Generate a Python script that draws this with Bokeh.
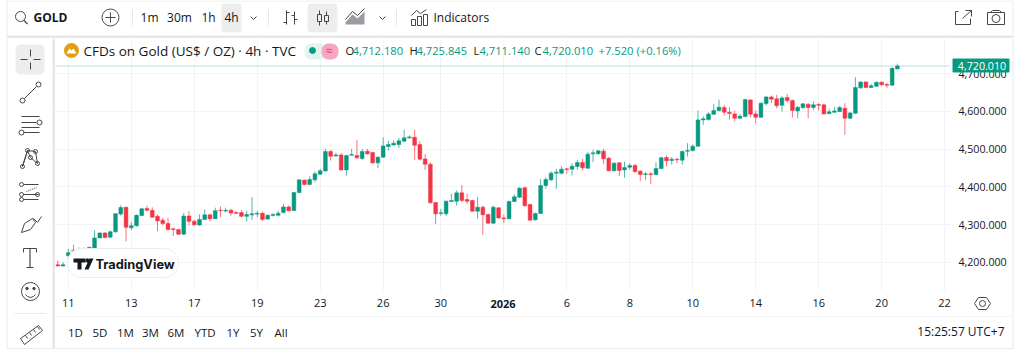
from bokeh.plotting import figure
from bokeh.layouts import column, row
from bokeh.models import Range1d, FixedTicker, NumeralTickFormatter, ColumnDataSource
from bokeh.core.properties import value
from bokeh.embed import file_html
from bokeh.resources import INLINE

opens = [4194,4191,4218,4232,4232,4234,4236,4236,4265,4278,
 4267,4281,4328,4346,4292,4297,4324,4343,4338,4322,
 4312,4303,4289,4287,4275,4323,4309,4299,4314,4326,
 4316,4338,4336,4338,4332,4332,4322,4326,4328,4330,
 4315,4324,4325,4332,4347,4337.5,4385,4418,4406,4419,
 4433.6,4442,4493.6,4482,4484.7,4445,4484,4483,4475,4494.4,
 4491,4463.6,4478.6,4506.8,4511,4512,4521,4529.7,4531.5,4512,
 4474,4460,4358.6,4329.6,4328.7,4361.3,4362,4384.2,4366.6,4364,
 4335.7,4346.3,4327,4304,4344.5,4318,4315.5,4361.4,4372.8,4397.5,
 4353.4,4312.9,4329.6,4403.7,4418.7,4436.3,4436.3,4447.8,4446.9,4453.9,
 4464.5,4449.5,4487.4,4487.4,4494.5,4476,4442.5,4463.6,4445,4452,
 4456.6,4441.6,4432.8,4434.5,4432.8,4448.6,4477.7,4469.8,4473.3,4470.7,
 4494.5,4496.2,4507.7,4577.3,4578,4592.3,4602,4610,4597.6,4593,
 4581.7,4586,4630,4593,4584.4,4620.5,4638,4632.9,4616,4636.4,
 4628.5,4601,4610,4618.8,4610,4618,4617,4594,4597.6,4599.4,
 4608,4581.7,4595,4662,4677.8,4662.9,4666.4,4677,4670.8,4669,
 4712.18]
highs = [4205,4201,4236,4247,4240,4240,4242,4285,4280,4280,
 4285,4330.5,4351,4348,4307,4327,4345,4350,4346,4327,
 4318,4318,4292,4289,4331,4336,4313,4327,4341,4329,
 4345,4348,4345,4342,4336,4339,4337,4373,4337,4334,
 4327,4330,4337,4355,4351,4387,4419.5,4419,4428,4440.6,
 4447.7,4500.6,4498,4490,4489,4484,4500.6,4525,4500.6,4500.6,
 4492.7,4480,4531.5,4522.6,4522.6,4529.7,4550.9,4535.9,4551,4520.9,
 4487.4,4465.3,4360.4,4342,4364,4381.6,4390.4,4404.5,4381.6,4365.7,
 4372.8,4350.7,4328.7,4350.7,4346.3,4327,4364,4379.9,4399.3,4401,
 4355,4332,4421.3,4425.7,4441.6,4447.8,4453.9,4449.5,4462.7,4471.6,
 4474.2,4491.8,4498,4497.1,4500.7,4478.6,4465.4,4465.4,4466.3,4462.7,
 4461,4445,4439,4439,4465.4,4480.4,4483,4478.6,4476.8,4496.2,
 4515.6,4512,4602,4587,4597.6,4619.7,4631,4617,4610.8,4602,
 4593,4632.9,4632,4602,4624,4640,4641.7,4643.5,4640,4646,
 4631,4613.5,4621.4,4621.4,4625.8,4622,4619.7,4606.4,4610.8,4615,
 4621.4,4597.6,4690,4678.7,4678.7,4672.5,4678.7,4678.7,4675,4715.8,
 4725.845]
lows = [4189,4189,4192,4230,4228,4230,4233,4232,4265,4264,
 4265,4279,4324,4256,4286,4295,4323,4336,4318,4283,
 4298,4285,4270,4273,4273,4298,4297,4297,4313,4309,
 4315,4320,4332,4324,4329,4320,4309,4313,4320,4309,
 4313,4322,4322,4330,4335,4336,4383,4404.5,4404,4412,
 4431.8,4440.6,4469.7,4480,4443,4430,4483,4474,4471.5,4484.7,
 4461,4450,4477,4496,4509.4,4503,4518,4528,4471.5,4469.7,
 4445,4356,4302,4323.4,4323.4,4359.5,4350.7,4359.5,4355,4334,
 4315.4,4273,4302,4302,4315.4,4304,4314.6,4359.6,4371,4348,
 4310,4311,4328.7,4394.8,4415,4394.8,4432.8,4434.5,4430,4445,
 4443.3,4447.8,4465.4,4485.7,4461,4441.6,4440.7,4428.4,4424,4445,
 4437,4415,4418.7,4408,4430,4446.9,4453.9,4459,4462.7,4459.2,
 4480.4,4493.6,4506.8,4564,4575.6,4590.6,4599.4,4588.8,4578,4573,
 4580,4584.4,4583.5,4568.5,4582.6,4615,4621.4,4608,4599.4,4622.3,
 4583.5,4581.7,4606.4,4581.7,4603.8,4602,4592,4592,4596,4597.6,
 4537.7,4580,4593,4659.3,4661,4661,4664.6,4668,4661,4668,
 4711.14]
closes = [4191,4194,4226,4230,4234,4236,4240,4265,4278,4266,
 4281,4329,4345.5,4293,4297,4325,4342,4338,4320,4310,
 4303,4287,4287,4275,4323,4309,4300,4314,4326,4316,
 4337,4337,4338,4331,4330,4322,4327,4329,4330,4314,
 4325,4327,4330,4347,4337,4385,4418.6,4406,4419.5,4434.5,
 4442.4,4493.6,4481,4484.7,4445,4483,4485.6,4477,4493.6,4487.4,
 4463.6,4478.6,4508.5,4512,4515.6,4521.8,4529.7,4532.3,4510.3,4473.3,
 4460,4357.8,4328.7,4331.3,4362.2,4364,4384.2,4364,4362,4335.7,
 4346.3,4326,4304,4346.3,4318,4315.5,4361.4,4373.7,4396.6,4349.9,
 4312,4329.6,4403.7,4419.5,4436.3,4439,4446.9,4446,4454.8,4464.5,
 4450.4,4486.5,4490,4495.4,4474.2,4442.5,4462.7,4443.3,4451.3,4456.6,
 4440.7,4432.8,4434.5,4432.8,4448.6,4476.8,4468.9,4473.3,4471.6,4493.6,
 4496.2,4507.7,4577.3,4580,4593,4602,4610.8,4597.6,4594,4581.7,
 4587,4631,4592.3,4584.4,4621.4,4638,4632,4615,4635.5,4628.5,
 4602,4610.8,4619.7,4610,4617,4616,4593,4598.5,4601,4610,
 4581.7,4595.8,4662.9,4677.8,4662.9,4667.3,4677,4670,4669,4714,
 4720.01]

time_ticks = [2, 14, 26, 38, 50, 62, 73, 85, 97, 109, 121, 133, 145, 157, 169]
time_labels = ["11", "13", "17", "19", "23", "26", "30", "2026", "6", "8", "10", "14", "16", "20", "22"]
price_ticks = [4200, 4300, 4400, 4500, 4600, 4700]
range_buttons = ["1D", "5D", "1M", "3M", "6M", "YTD", "1Y", "5Y", "All"]
intervals = ["1m", "30m", "1h", "4h"]

GREEN = "#089981"
RED = "#F23645"
INK = "#131722"
GRID = "#F2F3F5"
BAND = "#E6E7EA"
EDGE = "#E9EAEC"
ICON = "#43474D"
FONT = value("Open Sans")


def chrome(ox, oy, w, h):
    f = figure(width=w, height=h, x_range=Range1d(ox, ox + w), y_range=Range1d(oy + h, oy),
               min_border=0, toolbar_location=None, output_backend="svg", outline_line_color=None)
    f.axis.visible = False
    f.grid.visible = False
    return f


def txt(f, x, y, s, size=12, color=INK, align="left", style="normal", font=FONT, **kw):
    f.text([x], [y], [s], text_font=font, text_font_size=f"{size}px", text_color=color,
           text_align=align, text_baseline="middle", text_font_style=style, **kw)


def ln(f, xs, ys, color=ICON, w=1, **kw):
    f.line(xs, ys, line_color=color, line_width=w, **kw)


def ring(f, x, y, d, color=ICON, w=1, **kw):
    f.scatter([x], [y], size=d, marker="circle", fill_color=None, line_color=color, line_width=w, **kw)


def box(f, l, r, t, b, color, radius=0, **kw):
    f.quad(left=[l], right=[r], top=[t], bottom=[b], fill_color=color, line_color=None,
           border_radius=radius, **kw)


# ---------------- top toolbar ----------------
top = chrome(0, 0, 1016, 38)
box(top, 6, 1013, 38, 35, BAND)
ln(top, [6.5, 1012.5], [0.5, 0.5], color=EDGE)
ln(top, [6.5, 6.5], [0, 35], color=EDGE)
ring(top, 20, 16, 10)
ln(top, [23.5, 27], [20, 23.5], w=1.2)
txt(top, 33, 17, "GOLD", 12, style="bold")
ring(top, 110, 17, 17)
ln(top, [105, 115], [17, 17]); ln(top, [110, 110], [12, 22])
ln(top, [132, 132], [9, 26], color=BAND)
box(top, 221, 241, 32, 3, "#EDEDED", 3)
for s, x in zip(intervals, [149, 179, 208, 231]):
    txt(top, x, 17, s, 12, align="center")
ln(top, [250, 253, 256], [16, 19, 16], w=1)
ln(top, [268, 268], [9, 26], color=BAND)
# bar-style icon
ln(top, [286, 286], [10, 24]); ln(top, [283, 286], [22, 22]); ln(top, [286, 289], [12, 12])
ln(top, [294, 294], [11, 24]); ln(top, [291, 294], [15, 15]); ln(top, [294, 297], [19, 19])
# candle-style icon
box(top, 307, 337, 32, 3, "#EDEDED", 4)
ln(top, [319, 319], [10, 25]); top.quad(left=[317], right=[321], top=[14], bottom=[21], fill_color="#EDEDED", line_color=ICON)
ln(top, [326, 326], [11, 24]); top.quad(left=[324], right=[328], top=[15], bottom=[21], fill_color="#EDEDED", line_color=ICON)
# area icon
top.patch([345, 352, 357, 364, 364, 345], [22, 14, 18, 11, 24, 24], fill_color="#9A9CA1", line_color=None)
ln(top, [345, 352, 357, 364], [19, 11, 15, 8])
ln(top, [379, 382, 385], [16, 19, 16])
ln(top, [396, 396], [9, 26], color=BAND)
# indicators icon
ln(top, [411, 416, 420, 426], [15, 10, 13, 9], w=1)
for l, r, t in [(411, 415, 19), (417, 421, 16), (423, 427, 14)]:
    top.quad(left=[l], right=[r], top=[t], bottom=[25], fill_color=None, line_color=ICON)
txt(top, 433, 17, "Indicators", 12)
# share + camera
ln(top, [958, 955, 955, 970, 970], [11, 11, 24, 24, 18])
ln(top, [962, 971], [18, 10]); ln(top, [965, 971, 971], [10, 10, 16])
top.quad(left=[987], right=[1004], top=[12], bottom=[24], fill_color=None, line_color=ICON)
ln(top, [990, 992, 999, 1001], [12, 10, 10, 12])
ring(top, 995.5, 18, 8)
ln(top, [1012.5, 1012.5], [0, 35], color=EDGE)

# ---------------- left drawing tools ----------------
left = chrome(0, 38, 55, 312)
box(left, 52, 55, 38, 348, BAND)
ln(left, [6.5, 6.5], [38, 348], color=EDGE)
ln(left, [6, 55], [348, 348], color=EDGE)
box(left, 15, 44, 74, 44, "#EDEDED", 5)
ln(left, [20, 27], [59, 59]); ln(left, [33, 40], [59, 59]); ln(left, [30, 30], [49, 56]); ln(left, [30, 30], [62, 69])
ln(left, [24, 36], [98, 86]); ring(left, 22, 100, 5); ring(left, 38, 84, 5)
ln(left, [21, 39], [116, 116]); ln(left, [21, 36], [122, 122]); ln(left, [23, 39], [132, 132]); ln(left, [21, 39], [127, 127])
ring(left, 39, 122, 5); ring(left, 21, 132, 5)
ln(left, [22, 27, 30, 37, 35, 27, 22], [166, 150, 157, 163, 151, 150, 166])
for x, y in [(22, 166), (27, 150), (30, 157), (37, 163), (35, 151)]:
    ring(left, x, y, 4)
ln(left, [23, 38], [184, 184]); ln(left, [23, 38], [194, 194]); ln(left, [23, 38], [199, 199])
ln(left, [26, 36], [191, 187], line_dash="1 1")
for x, y in [(21, 184), (21, 194), (37, 194), (21, 199)]:
    ring(left, x, y, 4)
ln(left, [21, 24, 32, 35, 30, 21], [232, 223, 218, 222, 229, 232])
ln(left, [33, 37, 41], [218, 222, 216])
ln(left, [23, 36], [248, 248], w=1.2); ln(left, [23, 23], [248, 252]); ln(left, [36, 36], [248, 252])
ln(left, [29.5, 29.5], [248, 267], w=1.2); ln(left, [26, 33], [267, 267])
ring(left, 30, 291, 18)
left.scatter([26.5, 33.5], [288, 288], size=2.5, color=ICON)
ln(left, [25, 27, 30, 33, 35], [294, 296, 297, 296, 294])
ln(left, [14, 46], [313, 313], color=EDGE)
ln(left, [20, 38, 42, 24, 20], [338, 325, 330, 344, 338], w=1)
for a, b in [(25, 335), (29, 332), (33, 329), (37, 326)]:
    ln(left, [a, a + 2], [b, b + 3], w=1)

# ---------------- chart pane ----------------
main = figure(width=961, height=278, x_range=Range1d(-0.44, 182.7), y_range=Range1d(4057.1, 4792.6),
              min_border=0, toolbar_location=None, output_backend="svg", outline_line_color=None,
              y_axis_location="right")
main.extra_x_ranges["px"] = Range1d(55, 1016)
main.extra_y_ranges["px"] = Range1d(316, 38)

main.xaxis.ticker = FixedTicker(ticks=time_ticks)
main.xaxis.major_label_overrides = {t: ("" if s == "2026" else s) for t, s in zip(time_ticks, time_labels)}
main.yaxis.ticker = FixedTicker(ticks=price_ticks)
main.yaxis.formatter = NumeralTickFormatter(format="0,0.000")
main.xaxis.fixed_location = 4125.9
main.yaxis.fixed_location = 170.1
for ax in (main.xaxis, main.yaxis):
    ax.axis_line_color = None
    ax.major_tick_line_color = None
    ax.minor_tick_line_color = None
    ax.major_label_text_font = "Open Sans"
    ax.major_label_text_color = INK
main.xaxis.major_label_text_font_size = "11px"
main.yaxis.major_label_text_font_size = "10.7px"
main.xaxis.major_label_standoff = 3
main.yaxis.major_label_standoff = 2
main.grid.grid_line_color = GRID

n = len(closes)
idx = list(range(n))
colors = [GREEN if c >= o else RED for o, c in zip(opens, closes)]
src = ColumnDataSource(dict(x=idx, o=opens, h=highs, l=lows, c=closes, col=colors))
main.segment("x", "h", "x", "l", source=src, line_color="col", line_width=1, line_alpha=0.7)
main.vbar("x", 0.72, "o", "c", source=src, fill_color="col", line_color="col", line_width=0.5)

PX = dict(x_range_name="px", y_range_name="px")
# last-price dotted line, drawn in price units
main.line([-0.44, 170.1], [closes[-1], closes[-1]], line_color=GREEN, line_width=1, line_dash="1 1", line_alpha=0.55)

# white price and time scale panels over the grid
box(main, 950, 1016, 38, 316, "white", **PX)
box(main, 55, 950, 290, 316, "white", **PX)
ln(main, [1012.5, 1012.5], [38, 316], color=EDGE, **PX)
txt(main, 502.5, 303.5, time_labels[7], 11, align="center", style="bold", level="overlay", **PX)

# header
main.scatter([71], [50], size=14, marker="circle", color="#E0A010", **PX)
main.patch([66, 69, 71, 73, 76], [53, 48, 50, 48, 53], fill_color="white", line_color=None, **PX)
txt(main, 83, 50, "CFDs on Gold (US$ / OZ) · 4h · TVC", 13.5, color=INK, **PX)
box(main, 304, 325, 59, 43, "#E2F4F1", 7, **PX)
box(main, 321, 338, 59, 43, "#F6A6C3", 7, **PX)
main.scatter([312], [50], size=6, color=GREEN, **PX)
txt(main, 329, 50, "≈", 12, color=RED, align="center", **PX)
for x, s, c in [(345, "O", INK), (352, "4,712.180", GREEN), (409, "H", INK), (416, "4,725.845", GREEN),
                (473, "L", INK), (479, "4,711.140", GREEN), (534, "C", INK), (542, "4,720.010", GREEN),
                (598, "+7.520", GREEN), (636, "(+0.16%)", GREEN)]:
    txt(main, x, 50, s, 11.2, color=c, **PX)
# watermark
main.quad(left=[67], right=[178], top=[277], bottom=[248], fill_color="white", fill_alpha=0.95,
          line_color="#ECEDEF", border_radius=14, **PX)
main.patch([73, 85, 85, 81, 81, 77, 77, 73], [258, 258, 262, 262, 269, 269, 262, 262],
           fill_color=INK, line_color=None, **PX)
main.patch([89, 93, 88, 84], [258, 258, 269, 269], fill_color=INK, line_color=None, **PX)
main.scatter([87], [260], size=3.5, color=INK, **PX)
txt(main, 95, 264, "TradingView", 12.8, style="bold", font=value("Inter"), **PX)

# last-price tag and time-scale settings icon
box(main, 952, 1009, 58, 72, GREEN, 1, level="overlay", **PX)
txt(main, 981.5, 65, "4,720.010", 10.7, color="white", align="center", level="overlay", **PX)
main.patch([974, 978, 986, 990, 986, 978], [303, 297, 297, 303, 309, 309], fill_color=None, line_color=ICON, **PX)
ring(main, 982, 303, 6, **PX)

# ---------------- bottom bar ----------------
bottom = chrome(55, 316, 961, 34)
ln(bottom, [55, 1013], [316, 316], color=EDGE)
ln(bottom, [55, 1013], [348, 348], color=EDGE)
ln(bottom, [1012.5, 1012.5], [316, 348], color=EDGE)
for s, x in zip(range_buttons, [75, 99.5, 125, 150, 175.5, 204.5, 232.5, 256, 280.5]):
    txt(bottom, x, 332, s, 11.5, align="center")
txt(bottom, 1004, 331, "15:25:57 UTC+7", 12, align="right")

page = column(top, row(left, column(main, bottom)))
open("out.html", "w").write(file_html(page, INLINE))
